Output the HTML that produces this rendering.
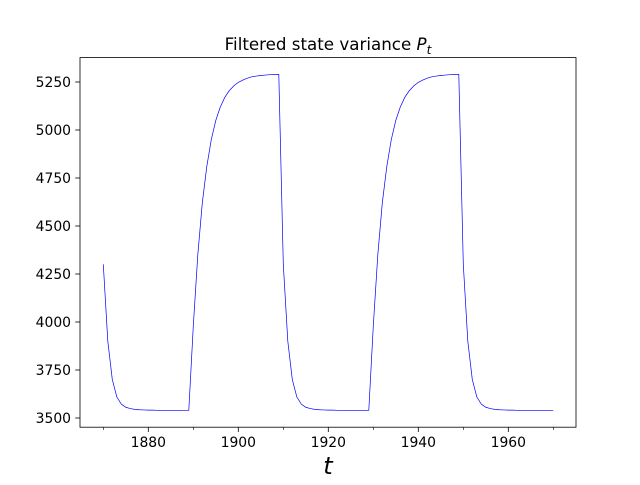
<!DOCTYPE html>
<html><head><meta charset="utf-8"><style>
body{margin:0;background:#fff;}
svg text{font-family:"DejaVu Sans","Liberation Sans",sans-serif;}
</style></head><body>
<svg id="chart" width="640" height="480" xmlns="http://www.w3.org/2000/svg">
<rect width="640" height="480" fill="#fff"/>
<g id="ticks"></g>
<polyline id="line" fill="none" stroke="#0000ff" stroke-width="0.7"/>
<rect x="80" y="57.6" width="496" height="369.6" fill="none" stroke="#000" stroke-width="0.8"/>
<text x="328" y="50" font-size="16.7" text-anchor="middle">Filtered state variance <tspan font-style="italic">P</tspan><tspan font-style="italic" font-size="12" dy="4">t</tspan></text>
<text x="328" y="474" font-size="24" font-style="italic" text-anchor="middle">t</text>
</svg>
<script>
const startYear = 1870;
const drop = [4300,3900,3700,3610,3572,3556,3549,3545,3543,3542,3541,3541,3540,3540,3540,3540,3540,3540,3540,3540];
const rise = [3980,4350,4620,4810,4950,5050,5120,5170,5205,5230,5248,5260,5270,5277,5281,5284,5286,5288,5289,5290];
const values = [].concat(drop, rise, drop, rise, drop, [3540]);
const xMajor = [1880,1900,1920,1940,1960];
const xMinor = [1870,1890,1910,1930,1950,1970];
const yTicks = [3500,3750,4000,4250,4500,4750,5000,5250];

const x = yr => 103.3 + (yr - 1870) * 4.5;
const y = v => 418 - (v - 3500) * 48 / 250;
const NS = "http://www.w3.org/2000/svg";
const g = document.getElementById('ticks');
function mk(tag, attrs){const e=document.createElementNS(NS,tag);for(const k in attrs)e.setAttribute(k,attrs[k]);g.appendChild(e);return e;}
xMajor.forEach(t=>{
  const l=mk('line',{x1:x(t),x2:x(t),y1:427.2,y2:432,stroke:'#000','stroke-width':0.8});
  
  
  const tx=mk('text',{x:x(t),y:447,'font-size':13.9,'text-anchor':'middle'});
  tx.textContent=t;
  
  
});
xMinor.forEach(t=>{
  const l=mk('line',{x1:x(t),x2:x(t),y1:427.2,y2:430,stroke:'#000','stroke-width':0.6});
  
  
});
yTicks.forEach(t=>{
  const l=mk('line',{x1:75.2,x2:80,y1:y(t),y2:y(t),stroke:'#000','stroke-width':0.8});
  
  
  const tx=mk('text',{x:71,y:y(t)+5,'font-size':13.9,'text-anchor':'end'});
  tx.textContent=t;
  
  
});
document.getElementById('line').setAttribute('points', values.map((v,i)=>x(startYear+i)+','+y(v)).join(' '));
</script>
</body></html>
